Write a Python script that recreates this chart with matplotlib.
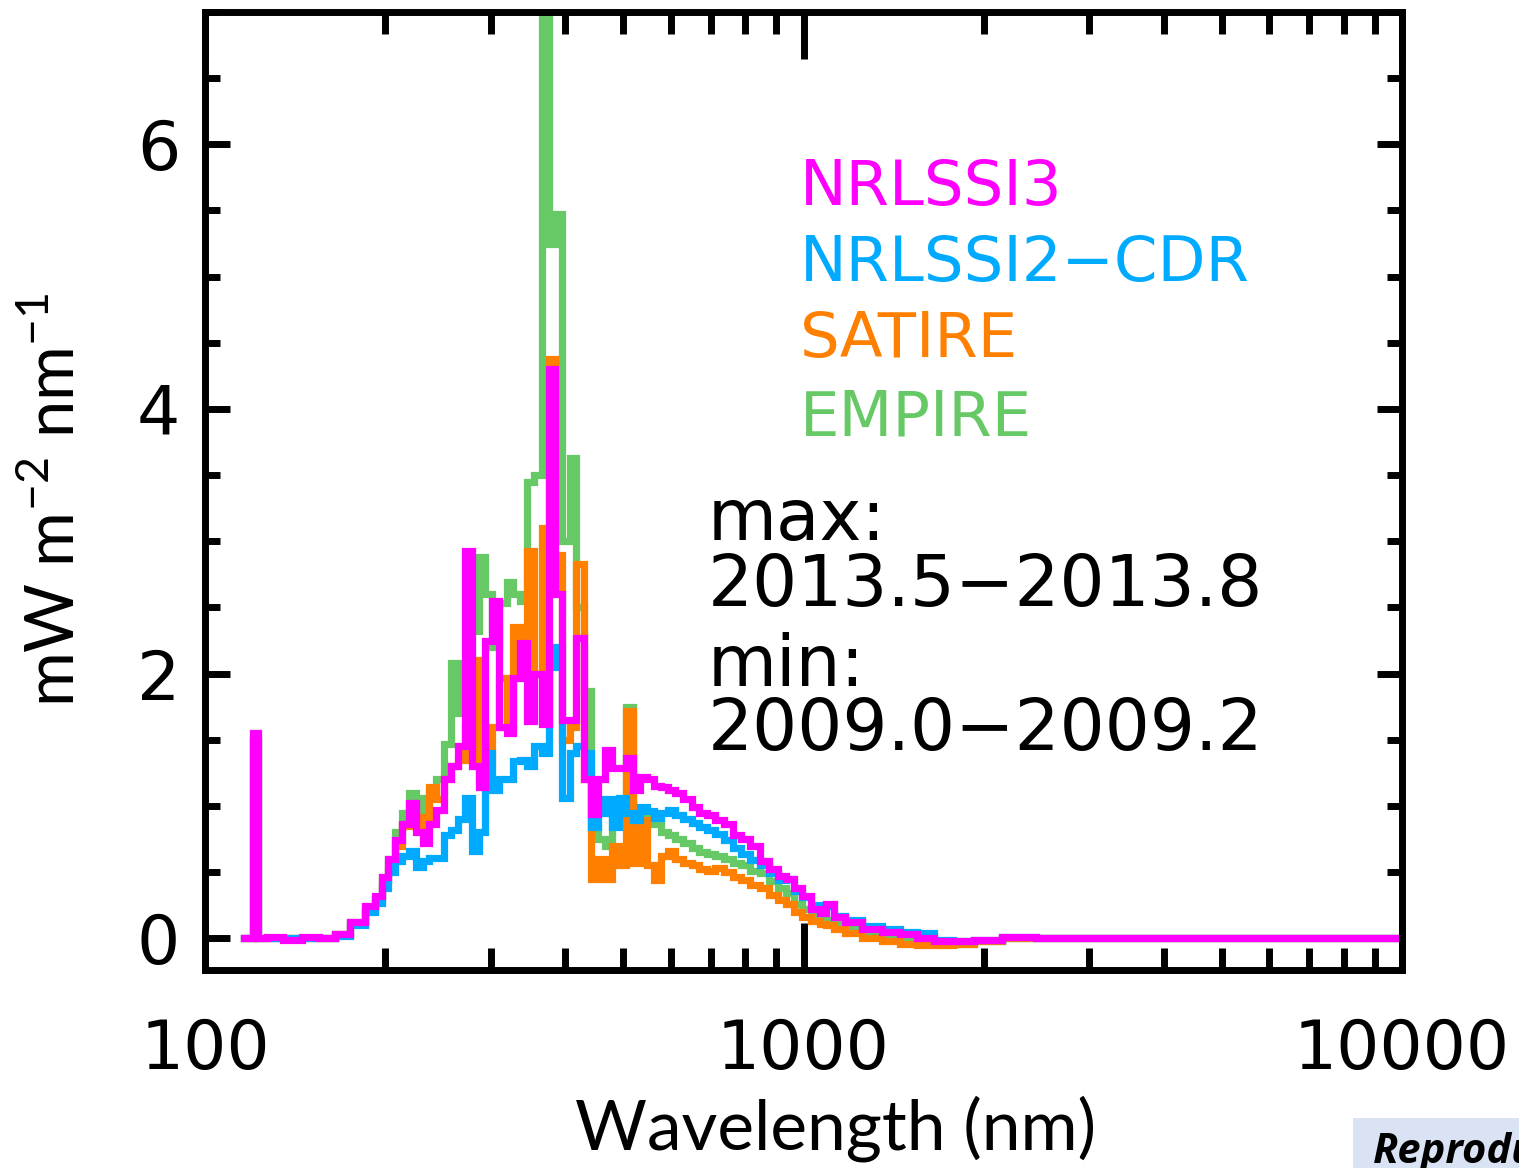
import matplotlib
matplotlib.use("Agg")
import matplotlib.pyplot as plt
from matplotlib.patches import Rectangle
from matplotlib.ticker import FixedLocator, MultipleLocator, NullFormatter, FixedFormatter

# --- data: solar-cycle change in spectral irradiance (max - min) ---
wavelength = [116, 119, 121.6, 124, 130, 140, 150, 160, 170, 180,
              190, 195, 200, 205, 211, 216, 222, 228, 234, 240,
              247, 254, 261, 268, 275, 283, 290, 298, 306, 315,
              323, 332, 341, 350, 360, 370, 380, 390, 401, 412,
              423, 435, 447, 459, 472, 485, 498, 511, 525, 540,
              555, 570, 585, 601, 620, 640, 660, 680, 700, 725,
              750, 775, 800, 830, 860, 890, 920, 950, 980, 1010,
              1050, 1080, 1100, 1150, 1200, 1300, 1400, 1500, 1600, 1700,
              1850, 2000, 2300, 2600, 3000, 4000, 5000, 7000, 10000]

empire = [0.0, 0.0, 1.5, 0.0, 0.0, 0.0, 0.0, 0.0, 0.03, 0.12,
          0.22, 0.30, 0.45, 0.60, 0.80, 0.95, 1.10, 0.94, 1.06, 1.10,
          1.20, 1.47, 2.08, 1.70, 1.80, 2.32, 2.88, 2.60, 2.20, 2.53,
          2.69, 2.60, 2.55, 3.45, 3.50, 7.20, 5.25, 5.47, 3.00, 3.63,
          2.50, 1.87, 0.85, 0.75, 0.70, 1.00, 1.02, 1.75, 0.90, 0.94,
          0.90, 0.86, 0.80, 0.78, 0.75, 0.72, 0.68, 0.65, 0.64, 0.62,
          0.60, 0.57, 0.55, 0.51, 0.49, 0.43, 0.38, 0.34, 0.26, 0.22,
          0.18, 0.15, 0.14, 0.11, 0.08, 0.04, 0.02, 0.00, -0.02, -0.04,
          -0.04, -0.02, 0.00, 0.00, 0.00, 0.00, 0.00, 0.00, 0.00]

satire = [0.0, 0.0, 1.5, 0.0, 0.0, 0.0, 0.0, 0.0, 0.03, 0.11,
          0.22, 0.30, 0.42, 0.56, 0.70, 0.85, 1.00, 0.85, 0.92, 1.14,
          1.05, 1.20, 1.30, 1.35, 1.60, 2.10, 1.20, 1.30, 1.60, 1.97,
          1.60, 2.35, 2.00, 2.93, 2.00, 3.10, 4.38, 2.90, 1.50, 1.60,
          2.83, 1.20, 0.45, 0.60, 0.45, 0.70, 0.55, 1.72, 0.57, 0.89,
          0.55, 0.44, 0.62, 0.66, 0.60, 0.57, 0.55, 0.52, 0.51, 0.53,
          0.50, 0.46, 0.44, 0.40, 0.38, 0.33, 0.29, 0.26, 0.20, 0.16,
          0.13, 0.11, 0.10, 0.07, 0.04, 0.00, -0.02, -0.04, -0.05, -0.05,
          -0.04, -0.02, 0.00, 0.00, 0.00, 0.00, 0.00, 0.00, 0.00]

nrlssi2 = [0.0, 0.0, 1.5, 0.0, 0.0, 0.0, 0.0, 0.0, 0.02, 0.10,
           0.20, 0.27, 0.38, 0.50, 0.58, 0.62, 0.66, 0.54, 0.58, 0.61,
           0.61, 0.78, 0.82, 0.90, 1.06, 0.66, 0.80, 1.40, 1.12, 1.20,
           1.20, 1.34, 1.35, 1.30, 1.45, 1.40, 2.05, 2.20, 1.06, 1.40,
           1.45, 1.40, 0.84, 0.95, 1.05, 0.84, 1.06, 0.95, 0.89, 0.99,
           0.96, 0.91, 0.95, 0.97, 0.93, 0.90, 0.87, 0.84, 0.82, 0.79,
           0.74, 0.68, 0.64, 0.59, 0.55, 0.49, 0.44, 0.45, 0.36, 0.31,
           0.25, 0.22, 0.24, 0.17, 0.14, 0.09, 0.07, 0.05, 0.04, -0.01,
           -0.02, -0.01, 0.01, 0.00, 0.00, 0.00, 0.00, 0.00, 0.00]

nrlssi3 = [0.0, 0.0, 1.55, 0.0, 0.01, -0.01, 0.01, 0.0, 0.03, 0.12,
           0.24, 0.32, 0.46, 0.60, 0.74, 0.86, 1.02, 0.80, 0.72, 0.86,
           0.97, 1.20, 1.30, 1.45, 2.93, 1.30, 1.14, 2.25, 2.55, 1.60,
           1.55, 1.97, 2.23, 1.64, 2.00, 1.62, 4.30, 2.60, 1.65, 1.65,
           2.27, 1.20, 0.94, 1.20, 1.42, 1.29, 1.29, 1.36, 1.12, 1.22,
           1.20, 1.15, 1.14, 1.12, 1.10, 1.05, 0.99, 0.95, 0.93, 0.89,
           0.86, 0.78, 0.75, 0.70, 0.58, 0.52, 0.47, 0.45, 0.38, 0.32,
           0.22, 0.19, 0.26, 0.16, 0.12, 0.07, 0.05, 0.03, 0.00, -0.02,
           -0.02, -0.01, 0.01, 0.00, 0.00, 0.00, 0.00, 0.00, 0.00]

series = [("EMPIRE", empire, "#66c966"),
          ("SATIRE", satire, "#ff8000"),
          ("NRLSSI2\u2212CDR", nrlssi2, "#00aaff"),
          ("NRLSSI3", nrlssi3, "#ff00ff")]

xticks_major = [100, 1000, 10000]
xtick_labels = ["100", "1000", "10000"]
yticks_major = [0, 2, 4, 6]

W, H = 1519, 1168
fig = plt.figure(figsize=(W / 100, H / 100), dpi=100)
ax = fig.add_axes([205 / W, 1 - 970 / H, (1402 - 205) / W, (970 - 12) / H])

for name, vals, col in series:
    ax.plot(wavelength, vals, color=col, lw=5.2, drawstyle="steps-mid",
            solid_joinstyle="miter")

ax.set_xscale("log")
ax.set_xlim(100, 10000)
ax.set_ylim(-0.24, 7.0)

ax.xaxis.set_major_locator(FixedLocator(xticks_major))
ax.xaxis.set_major_formatter(FixedFormatter(xtick_labels))
ax.xaxis.set_minor_locator(FixedLocator([200, 300, 400, 500, 600, 700, 800, 900,
                                         2000, 3000, 4000, 5000, 6000, 7000, 8000, 9000]))
ax.xaxis.set_minor_formatter(NullFormatter())
ax.yaxis.set_major_locator(FixedLocator(yticks_major))
ax.yaxis.set_minor_locator(MultipleLocator(0.5))

for s in ax.spines.values():
    s.set_linewidth(5)
ax.tick_params(which="both", direction="in", top=True, right=True, width=5,
               labelsize=49, color="black")
ax.tick_params(axis="x", which="major", length=34, pad=34)
ax.tick_params(axis="x", which="minor", length=16)
ax.tick_params(axis="y", which="major", length=18, pad=18)
ax.tick_params(axis="y", which="minor", length=11)

# legend-like labels
leg_y = [205, 281, 357, 435]
for (name, vals, col), yb in zip(series[::-1], leg_y):
    fig.text(800 / W, 1 - yb / H, name, color=col, fontsize=45, va="baseline")

# max / min period annotation
notes = ["max:", "2013.5\u22122013.8", "min:", "2009.0\u22122009.2"]
for txt, yb in zip(notes, [540, 606, 686, 750]):
    fig.text(708 / W, 1 - yb / H, txt, color="black", fontsize=51, va="baseline")

plt.rcParams["mathtext.fontset"] = "custom"
plt.rcParams["mathtext.rm"] = "Lato"
fig.text(55 / W, 1 - 500 / H, r"mW m$^{\mathrm{-2}}$ nm$^{\mathrm{-1}}$", rotation=90,
         family="Lato", fontsize=48, ha="center", va="center")
fig.text(836 / W, 1 - 1150 / H, "Wavelength (nm)", family="Lato", fontsize=50,
         ha="center", va="baseline")

# cropped caption box in the corner
fig.add_artist(Rectangle((1353 / W, 0), (W - 1353) / W, 50 / H,
                         transform=fig.transFigure, color="#dae3f3", lw=0))
fig.text(1373 / W, 1 - 1163 / H, "Reproduced", family="Open Sans", fontsize=30,
         fontweight="bold", fontstyle="italic", va="baseline")

fig.savefig("out.png", dpi=100)
